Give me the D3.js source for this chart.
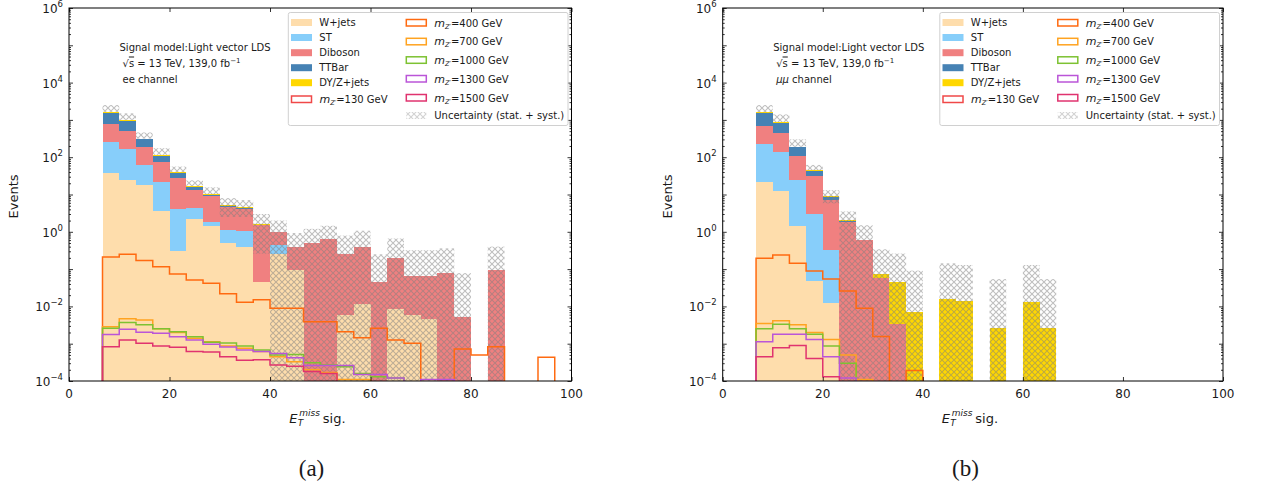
<!DOCTYPE html>
<html><head><meta charset="utf-8">
<script src="https://cdn.jsdelivr.net/npm/d3@7"></script>
<style>
body{margin:0;background:#fff}
svg{display:block}
text{font-family:"DejaVu Sans",sans-serif;fill:#1a1a1a}
</style>
</head><body>
<svg id="c" width="1269" height="494"></svg>
<script>
// ---------- data ----------
const binEdges = [6.667,10,13.333,16.667,20,23.333,26.667,30,33.333,36.667,40,43.333,46.667,50,53.333,56.667,60,63.333,66.667,70,73.333,76.667,80,83.333,86.667,90,93.333,96.667,100];
const bkgNames = ["W+jets","ST","Diboson","TTBar","DY/Z+jets"];
const xTicks = [0,20,40,60,80,100];
const yTickExps = [-4,-2,0,2,4,6];

// ee channel (a)
const eeWjets   = [38,25,18,3.6,0.30,2.2,1.43,0.51,0.38,0.046,0.26,0.095,0,0,0.0059,0.0115,0,0.0083,0.0059,0.0045];
const eeST      = [212,138,44,17.4,3.7,2.2,0.40,0.61,0.67,0,0.19];
const eeDiboson = [530,337,121,55,24,8.6,7.3,3.6,3.05,1.45,0.51,0.285,0.49,0.66,0.254,0.39,0.046,0.19,0.060,0.0615,0.078,0.0052,0,0.095];
const eeTTBar   = [770,450,117,34,9,3,0.5,0.3,0.3,0.05,0.02,0.005];
const eeDY      = [90,55,15,6,2.5,0.8,0.5,0.25,0.2,0.05,0.03,0.01];
const eeUncUp   = [2500,1500,460,174,56,24,15.5,8,7.1,3.0,2.0,0.93,1.2,1.45,0.79,1.07,0.25,0.66,0.32,0.32,0.36,0.078,0,0.40];
const eeUncLow  = [1640,1005,315,116,39.5,16.8,10.1,2.5,2.5,0.26];
const eeM130  = [];
const eeM400  = [0.21,0.25,0.17,0.115,0.074,0.051,0.042,0.022,0.013,0.015,0.0089,0.0089,0.0039,0.0039,0.0021,0.00145,0.0026,0.00126,0.00103,0,0,0.00072,0.0005,0.00083,0,0,0.00043,0];
const eeM700  = [0.00285,0.0047,0.0043,0.0025,0.0020,0.0014,0.00113,0.00087,0.00076,0.00062,0.00045,0.00033,0.0002,0.00017,0.00011,0.00011];
const eeM1000 = [0.0026,0.0037,0.0032,0.0025,0.0021,0.00154,0.0011,0.00105,0.00087,0.00068,0.0005,0.00051,0.00031,0.00027,0.00024,0.00016,0.00013,0.00012];
const eeM1300 = [0.00177,0.00244,0.00204,0.0019,0.00154,0.00126,0.00096,0.00082,0.00068,0.00062,0.00055,0.00042,0.00026,0.00026,0.00026,0.00015,0.00015,0.00012,0,0.00011,0.00011];
const eeM1500 = [0.00083,0.00126,0.00103,0.00087,0.0008,0.00062,0.0006,0.00045,0.00036,0.00037,0.00027,0.00025,0.00018,0.00016];

// mumu channel (b)
const mmWjets   = [22,12.5,1.43,0.049,0.012];
const mmST      = [203,122.5,23.6,2.95,0.31];
const mmDiboson = [465,305,85,28.6,6.8,1.85,0.60,0.056,0.0034];
const mmTTBar   = [810,400,74,10.4,1.6,0.08];
const mmDY      = [100,40,6,3,0.4,0.1,0.01,0.018,0.043,0.0069,0,0.016,0.0142,0,0.0027,0,0.0128,0.0027];
const mmUncUp   = [2500,1400,300,62,13,3.5,1.5,0.34,0.26,0.091,0,0.143,0.129,0,0.054,0,0.129,0.054];
const mmUncLow  = [1600,880,190,45,5.8];
const mmM130  = [];
const mmM400  = [0.195,0.24,0.143,0.089,0.054,0.026,0.0089,0.00155,0,0.00019];
const mmM700  = [0.0035,0.0041,0.0032,0.002,0.0013,0.0005,0.00011];
const mmM1000 = [0.0025,0.0033,0.0025,0.0018,0.00087,0.0003];
const mmM1300 = [0.00113,0.00178,0.00178,0.0013,0.00045,0.00012];
const mmM1500 = [0.00045,0.00078,0.00089,0.0004,0.00013];

const signalMasses = ["130","400","700","1000","1300","1500"];

// ---------- style ----------
const bkgColors = ["#FEDDAC","#87CEFA","#F08080","#4682B4","#FFD700"];
const sigColors = ["#F04848","#FF6A10","#FFA320","#7DC232","#BA55D8","#E0336F"];
const FLOOR = 1e-7;

const svg = d3.select("#c");
const defs = svg.append("defs");
const pat = defs.append("pattern").attr("id","hatch").attr("patternUnits","userSpaceOnUse")
  .attr("width",6).attr("height",6);
pat.append("path").attr("d","M0,0L6,6M6,0L0,6")
  .attr("stroke","rgba(125,125,125,0.5)").attr("stroke-width",1.1).attr("fill","none");

const panels = [
  {id:"a", left:69, right:571.5, caption:"(a)", capX:311.5, channel:"ee",
   bkg:[eeWjets,eeST,eeDiboson,eeTTBar,eeDY], up:eeUncUp, low:eeUncLow,
   sig:[eeM130,eeM400,eeM700,eeM1000,eeM1300,eeM1500]},
  {id:"b", left:722.7, right:1223, caption:"(b)", capX:965.5, channel:"mm",
   bkg:[mmWjets,mmST,mmDiboson,mmTTBar,mmDY], up:mmUncUp, low:mmUncLow,
   sig:[mmM130,mmM400,mmM700,mmM1000,mmM1300,mmM1500]}
];
const TOP = 8, BOTTOM = 381;

panels.forEach(p => {
  const x = d3.scaleLinear().domain([0,100]).range([p.left,p.right]);
  const y = d3.scaleLog().domain([1e-4,1e6]).range([BOTTOM,TOP]);
  const g = svg.append("g");
  defs.append("clipPath").attr("id","clip"+p.id).append("rect")
    .attr("x",p.left).attr("y",TOP).attr("width",p.right-p.left).attr("height",BOTTOM-TOP);
  const plot = g.append("g").attr("clip-path",`url(#clip${p.id})`);

  const nb = binEdges.length-1;
  const rows = d3.range(nb).map(i => {
    const r = {i};
    bkgNames.forEach((k,j) => r[k] = p.bkg[j][i] || 0);
    return r;
  });
  const stacked = d3.stack().keys(bkgNames)(rows);
  stacked.forEach((layer,li) => {
    plot.append("g").attr("fill",bkgColors[li]).attr("shape-rendering","crispEdges")
      .selectAll("rect").data(layer.filter(d => d[1]-d[0] > 0)).join("rect")
      .attr("x",d => x(binEdges[d.data.i]))
      .attr("width",d => x(binEdges[d.data.i+1]) - x(binEdges[d.data.i]))
      .attr("y",d => y(d[1]))
      .attr("height",d => y(Math.max(d[0],FLOOR)) - y(d[1]));
  });

  // uncertainty band
  const unc = d3.range(nb).map(i => ({i, hi:p.up[i]||0, lo:p.low[i]||0})).filter(d => d.hi>0);
  plot.append("g").selectAll("rect").data(unc).join("rect")
    .attr("fill","url(#hatch)")
    .attr("x",d => x(binEdges[d.i]))
    .attr("width",d => x(binEdges[d.i+1]) - x(binEdges[d.i]))
    .attr("y",d => y(d.hi))
    .attr("height",d => y(Math.max(d.lo,FLOOR)) - y(d.hi));

  // signals as step outlines
  const line = d3.line().x(d => x(d[0])).y(d => y(Math.max(d[1],FLOOR)));
  p.sig.forEach((s,si) => {
    if (!s.length) return;
    const pts = [[binEdges[0],FLOOR]];
    for (let i=0;i<nb;i++){ const v = s[i]||0; pts.push([binEdges[i],v]); pts.push([binEdges[i+1],v]); }
    pts.push([binEdges[nb],FLOOR]);
    plot.append("path").attr("d",line(pts)).attr("fill","none")
      .attr("stroke",sigColors[si]).attr("stroke-width",1.5).attr("stroke-linejoin","miter");
  });

  // axes (ticks inward)
  const majors = d3.range(-4,7).map(e => Math.pow(10,e));
  const minors = [];
  for (let e=-4;e<6;e++) for (let m=2;m<10;m++) minors.push(m*Math.pow(10,e));
  const axG = g.append("g");
  const styleAx = sel => { sel.selectAll("path").remove(); sel.selectAll("line").attr("stroke","#000").attr("stroke-width",0.8); sel.selectAll("text").remove(); };
  axG.append("g").attr("transform",`translate(${p.left},0)`).call(d3.axisLeft(y).tickValues(majors).tickSize(-4).tickSizeOuter(0)).call(styleAx);
  axG.append("g").attr("transform",`translate(${p.left},0)`).call(d3.axisLeft(y).tickValues(minors).tickSize(-2).tickSizeOuter(0)).call(styleAx);
  axG.append("g").attr("transform",`translate(${p.right},0)`).call(d3.axisRight(y).tickValues(majors).tickSize(-4).tickSizeOuter(0)).call(styleAx);
  axG.append("g").attr("transform",`translate(${p.right},0)`).call(d3.axisRight(y).tickValues(minors).tickSize(-2).tickSizeOuter(0)).call(styleAx);
  axG.append("g").attr("transform",`translate(0,${BOTTOM})`).call(d3.axisBottom(x).tickValues(xTicks).tickSize(-4).tickSizeOuter(0)).call(styleAx);
  axG.append("g").attr("transform",`translate(0,${TOP})`).call(d3.axisTop(x).tickValues(xTicks).tickSize(-4).tickSizeOuter(0)).call(styleAx);
  g.append("rect").attr("x",p.left).attr("y",TOP).attr("width",p.right-p.left).attr("height",BOTTOM-TOP)
    .attr("fill","none").attr("stroke","#000").attr("stroke-width",1);

  // tick labels
  xTicks.forEach(t => g.append("text").attr("x",x(t)).attr("y",BOTTOM+16.5)
    .attr("text-anchor","middle").attr("font-size",12).text(t));
  yTickExps.forEach(e => {
    const t = g.append("text").attr("x",p.left-6).attr("y",y(Math.pow(10,e))+5)
      .attr("text-anchor","end").attr("font-size",12);
    t.append("tspan").text("10");
    t.append("tspan").attr("dy",-6).attr("font-size",8.5).text(String(e).replace("-","\u2212"));
  });

  // axis titles
  const cx = (p.left+p.right)/2;
  g.append("text").attr("transform",`translate(${p.left-51},${(TOP+BOTTOM)/2+2}) rotate(-90)`)
    .attr("text-anchor","middle").attr("font-size",13).text("Events");
  g.append("text").attr("x",cx-31).attr("y",422.5).attr("font-size",13).attr("font-style","italic").text("E");
  g.append("text").attr("x",cx-21).attr("y",416).attr("font-size",9).attr("font-style","italic").text("miss");
  g.append("text").attr("x",cx-22.5).attr("y",425.5).attr("font-size",9).attr("font-style","italic").text("T");
  g.append("text").attr("x",cx+2.5).attr("y",422.5).attr("font-size",13).text("sig.");

  // caption
  svg.append("text").attr("x",p.capX).attr("y",476).attr("text-anchor","middle")
    .style("font-family","'Liberation Serif',serif").attr("font-size",23).text(p.caption);

  // annotation
  const ax0 = p.left + 50.5;
  g.append("text").attr("x",ax0).attr("y",50.5).attr("font-size",10).text("Signal model:Light vector LDS");
  const t2 = g.append("text").attr("x",ax0+3).attr("y",66.5).attr("font-size",10);
  t2.append("tspan").text("\u221A");
  t2.append("tspan").style("text-decoration","overline").text("s");
  t2.append("tspan").text(" = 13 TeV, 139,0 fb");
  t2.append("tspan").attr("dy",-4).attr("font-size",7).text("\u22121");
  const t3 = g.append("text").attr("x",ax0+3).attr("y",82.5).attr("font-size",10);
  if (p.channel==="ee") t3.text("ee channel");
  else { t3.append("tspan").attr("font-style","italic").text("\u03BC\u03BC"); t3.append("tspan").text(" channel"); }

  // legend
  const lx = p.right-283.2, ly = TOP+4.5;
  const lg = g.append("g");
  lg.append("rect").attr("x",lx).attr("y",ly).attr("width",279.7).attr("height",113)
    .attr("rx",2).attr("fill","rgba(255,255,255,0.85)").attr("stroke","#d0d0d0").attr("stroke-width",1);
  const col1Y = [22.5,37.5,52.7,67.7,82.7,99.5];
  const col2Y = [23,41.8,60.3,79,98,115.5];
  bkgNames.forEach((n,i) => {
    lg.append("rect").attr("x",lx+2.7).attr("y",col1Y[i]-3.5).attr("width",21).attr("height",7).attr("fill",bkgColors[i]);
    lg.append("text").attr("x",lx+31).attr("y",col1Y[i]+3.6).attr("font-size",10).text(n);
  });
  const sigEntry = (si, ex, ey) => {
    lg.append("rect").attr("x",ex).attr("y",ey-3.5).attr("width",20).attr("height",6.5)
      .attr("fill","none").attr("stroke",sigColors[si]).attr("stroke-width",1.5);
    const t = lg.append("text").attr("x",ex+28).attr("y",ey+3.6).attr("font-size",10);
    t.append("tspan").attr("font-style","italic").attr("font-size",11).text("m");
    t.append("tspan").attr("font-style","italic").attr("font-size",6.5).attr("dy",2).text("Z\u2032");
    t.append("tspan").attr("dy",-2).text("=" + signalMasses[si] + " GeV");
  };
  sigEntry(0, lx+3.2, col1Y[5]);
  for (let si=1; si<6; si++) sigEntry(si, lx+118, col2Y[si-1]);
  lg.append("rect").attr("x",lx+118).attr("y",col2Y[5]-3.5).attr("width",20).attr("height",7).attr("fill","url(#hatch)").attr("opacity",0.7);
  lg.append("text").attr("x",lx+146).attr("y",col2Y[5]+3.6).attr("font-size",10).text("Uncertainty (stat. + syst.)");
});
</script>
</body></html>
